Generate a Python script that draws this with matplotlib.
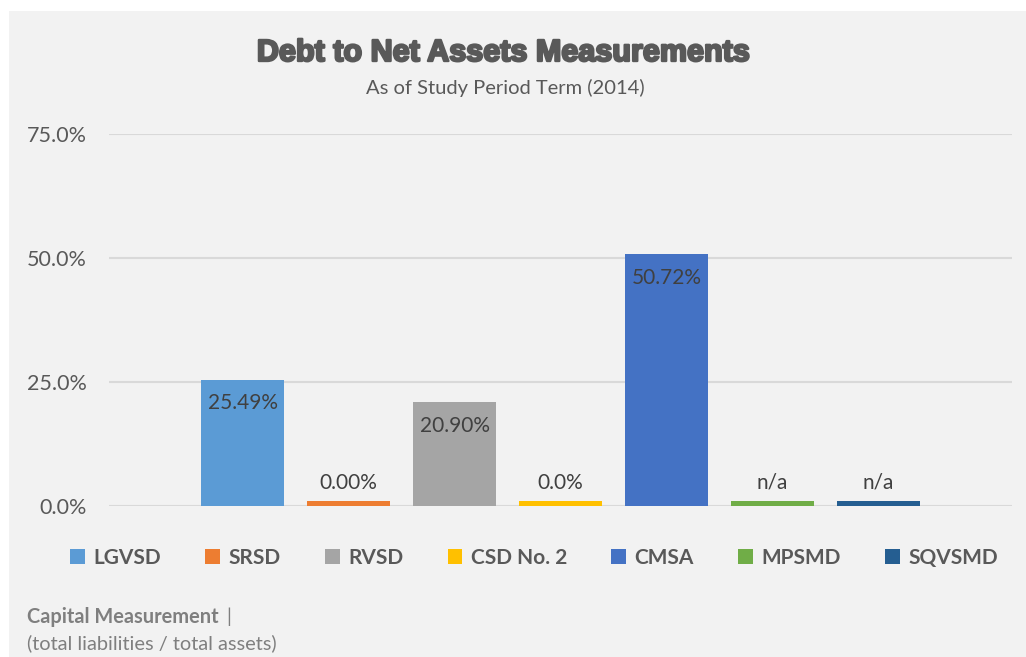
import matplotlib.pyplot as plt
import matplotlib.patheffects as pe
from matplotlib.patches import Rectangle
import numpy as np

# DATA
categories = ['LGVSD', 'SRSD', 'RVSD', 'CSD No. 2', 'CMSA', 'MPSMD', 'SQVSMD']
values = [25.49, 0.00, 20.90, 0.0, 50.72, None, None]
value_labels = ['25.49%', '0.00%', '20.90%', '0.0%', '50.72%', 'n/a', 'n/a']
colors = ['#5b9bd5', '#ed7d31', '#a5a5a5', '#ffc000', '#4472c4', '#70ad47', '#255e91']
yticks = [0, 25, 50, 75]

# zero / missing entries still get a thin stub so the colour shows
stub = 1.0
heights = [v if v else stub for v in values]

plt.rcParams['font.family'] = ['Lato', 'DejaVu Sans']

fig = plt.figure(figsize=(10.26, 6.57), dpi=100)
fig.patch.set_facecolor('white')
fig.patches.append(Rectangle((9 / 1026, 0), 1, 1 - 11 / 657, transform=fig.transFigure,
                             facecolor='#f2f2f2', edgecolor='none', zorder=-10))

ax = fig.add_axes([109 / 1026, 1 - 506 / 657, (1012 - 109) / 1026, (506 - 134) / 657])
ax.set_facecolor('none')

x = np.arange(len(categories))
bars = ax.bar(x, heights, width=0.79, color=colors, zorder=3)

for xi, h, v, lab in zip(x, heights, values, value_labels):
	if v and v > 10:
		ax.annotate(lab, (xi, h), xytext=(0, -10), textcoords='offset points',
		            ha='center', va='top', fontsize=15, color='#404040', zorder=4)
	else:
		ax.annotate(lab, (xi, h), xytext=(0, 6), textcoords='offset points',
		            ha='center', va='bottom', fontsize=15, color='#404040', zorder=4)

ax.set_xlim(-1.26, 7.26)
ax.set_ylim(0, 75)
ax.set_yticks(yticks)
ax.set_yticklabels(['%.1f%%' % t for t in yticks])
ax.set_xticks([])
ax.grid(axis='y', color='#d9d9d9', linewidth=1.5, zorder=0)
for s in ax.spines.values():
	s.set_visible(False)
ax.tick_params(axis='y', length=0, pad=16, labelsize=15.5, labelcolor='#595959')

# Titles
fig.text(503 / 1026, 1 - 53 / 657, 'Debt to Net Assets Measurements', ha='center', va='center',
         fontsize=22, fontweight='bold', family='Liberation Sans', color='#595959',
         path_effects=[pe.withStroke(linewidth=1.7, foreground='#595959')])
fig.text(505 / 1026, 1 - 88 / 657, 'As of Study Period Term (2014)', ha='center', va='center',
         fontsize=14.5, color='#595959')

# Legend
leg = fig.legend(bars, categories, loc='center', bbox_to_anchor=(534 / 1026, 1 - 558 / 657),
                 ncol=7, frameon=False, handlelength=0.7, handleheight=0.7,
                 handletextpad=0.4, columnspacing=2.14,
                 prop={'size': 15, 'weight': 'bold'})
for t in leg.get_texts():
	t.set_color('#595959')

# Footnote
fig.text(27 / 1026, 1 - 617 / 657, 'Capital Measurement', ha='left', va='center',
         fontsize=14.4, fontweight='bold', color='#7f7f7f')
fig.text(226 / 1026, 1 - 617 / 657, '|', ha='left', va='center', fontsize=14.4, color='#7f7f7f')
fig.text(27 / 1026, 1 - 643 / 657, '(total liabilities / total assets)', ha='left', va='center',
         fontsize=14.4, color='#7f7f7f')

plt.savefig('out.png', dpi=100, facecolor=fig.get_facecolor())
